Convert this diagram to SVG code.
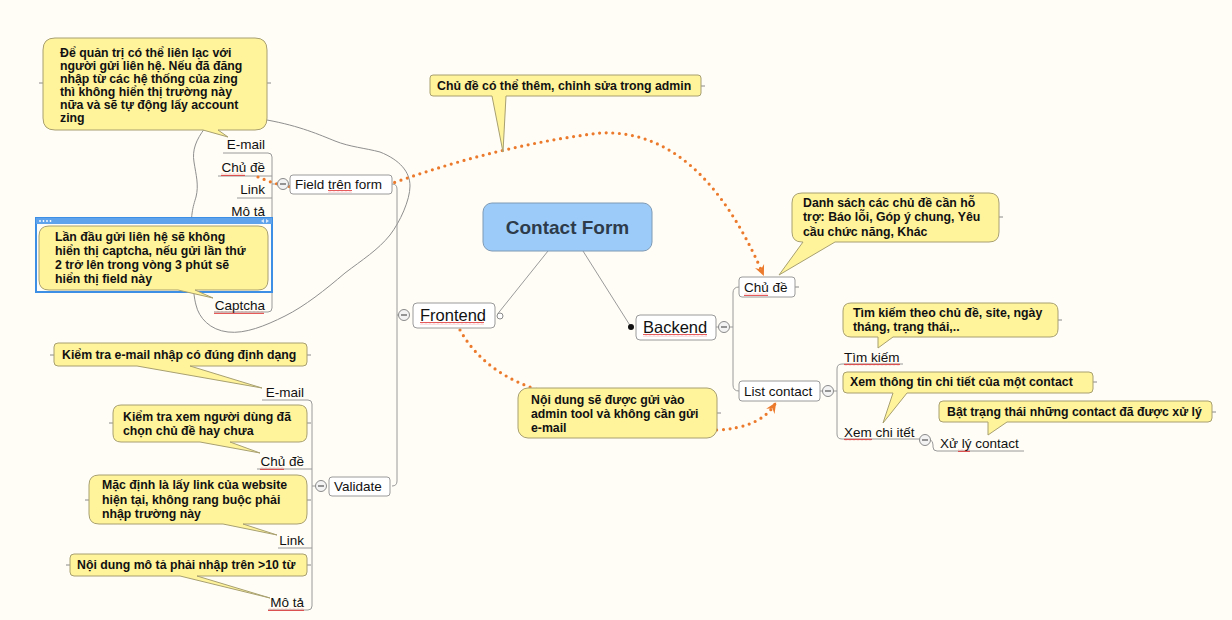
<svg xmlns="http://www.w3.org/2000/svg" width="1232" height="620" viewBox="0 0 1232 620">
<defs>
<style>
.bg{fill:#fffdf6}
.ln{fill:none;stroke:#9a9a9a;stroke-width:1}
.tick{fill:none;stroke:#8a8a8a;stroke-width:1}
.cloud{fill:none;stroke:#8f8f8f;stroke-width:1}
.rel{fill:none;stroke:#ec7a2c;stroke-width:3.2;stroke-linecap:round;stroke-dasharray:0 6.6}
.node{fill:#ffffff;stroke:#9a9a9a;stroke-width:1}
.root{fill:#9ccbfa;stroke:#7f9ab4;stroke-width:1}
.call{fill:#fff39c;stroke:#a8a070;stroke-width:1}
.minus{fill:#f3f3f3;stroke:#8a8a8a;stroke-width:1}
.t{font-family:"Liberation Sans",Arial,sans-serif;fill:#111}
.n16{font-size:16.5px}
.n13{font-size:13.5px}
.cb{font-size:12.3px;font-weight:bold}
.rt{font-family:"Liberation Sans",Arial,sans-serif;font-size:19px;font-weight:bold;fill:#2d3b4a}
.sq{fill:url(#sqp)}
</style>
<pattern id="sqp" width="4" height="3" patternUnits="userSpaceOnUse">
<path d="M0,2.2 L1,0.8 L2,2.2 L3,0.8 L4,2.2" fill="none" stroke="#e03030" stroke-width="0.8"/>
</pattern>
<marker id="arr" viewBox="0 0 10 10" refX="8" refY="5" markerWidth="11" markerHeight="11" markerUnits="userSpaceOnUse" orient="auto">
<path d="M0,0.5 L10,5 L0,9.5 L3.5,5 Z" fill="#ec7a2c"/>
</marker>
<g id="m">
<circle cx="0" cy="0" r="5.5" class="minus"/>
<path d="M-3,0 H3" stroke="#555" stroke-width="1.2"/>
</g>
</defs>
<rect class="bg" x="0" y="0" width="1232" height="620"/>

<path class="cloud" d="M205,128 C196,140 192,150 194,162 C196,175 199,185 196,197 C193,207 190,215 192,240 C193,270 192,290 196,305 C199,318 210,330 228,332 C245,334 265,326 285,316 C305,306 325,290 345,273 C362,260 378,250 390,235 C400,222 410,200 410,186 C410,172 400,160 380,152 C365,148 350,147 335,141 C320,135 300,126 267,120"/>

<g id="connectors">
<path class="ln" d="M548,251 L497.8,313.7"/>
<path class="ln" d="M583,251 L631,327"/>
<path class="ln" d="M392,184 Q397,184 397,189 V481 Q397,486 392,486 M397,315 H398.5"/>
<path class="ln" d="M223,153 H268 Q272,153 272,157 V308 Q272,312 268,312 H214 M218,176 H272 M237,198 H272 M230,220 H272 M272,184 H277.5"/>
<path class="ln" d="M262,400 H308 Q312,400 312,404 V606 Q312,610 308,610 H268 M257,469 H312 M278,548 H312 M312,486 H315.5"/>
<path class="ln" d="M716,327 H718.5 M729.5,327 H733 M739,287 Q733,287 733,293 V385 Q733,391 739,391"/>
<path class="ln" d="M820,391 H822.5 M833.5,391 H837 M903,364 H842 Q837,364 837,369 V434 Q837,439 842,439 H919.5 M930.5,440 Q933,441 933,445 V447 Q933,451 937,451 H1024"/>
<path class="rel" d="M258,177 C275,184 290,190 330,188 S380,186 393,183 Q500,145 600,133 Q700,128 763,274" marker-end="url(#arr)"/>
<path class="rel" d="M460,330 Q485,375 545,392 L717,430 Q760,428 775,404" marker-end="url(#arr)"/>
<path class="tick" d="M39,83 H43 M267,83 H271 M701,86 H705 M50,355 H54 M307,355 H311 M109,423 H113 M307,423 H311 M85,500 H89 M307,500 H311 M66,565 H70 M307,565 H311 M717,413 H721 M999,217 H1003 M1058,320 H1062 M1093,382 H1097 M1212,412 H1216 M795,287 H799"/>
</g>

<g id="root">
<rect class="root" x="483" y="203" width="169" height="48" rx="9"/>
<text class="rt" x="567.5" y="234" text-anchor="middle">Contact Form</text>
</g>

<g id="frontend">
<rect class="node" x="413" y="303" width="82" height="25" rx="4"/>
<text class="t n16" x="420" y="321">Frontend</text>
<rect class="sq" x="420" y="322" width="64" height="3"/>
<circle cx="500" cy="316" r="3" fill="#fff" stroke="#8a8a8a"/>
<use href="#m" x="404" y="315"/>
</g>

<g id="backend">
<rect class="node" x="636" y="315" width="80" height="25" rx="4"/>
<text class="t n16" x="643" y="333">Backend</text>
<rect class="sq" x="643" y="334" width="64" height="3"/>
<circle cx="631" cy="327" r="3" fill="#111"/>
<use href="#m" x="724" y="327"/>
</g>

<g id="field-tren-form">
<rect class="node" x="290" y="175" width="102" height="19" rx="3"/>
<text class="t n13" x="295" y="189">Field trên form</text>
<rect class="sq" x="328" y="190" width="24" height="3"/>
<use href="#m" x="283" y="184"/>
</g>

<g id="field-children">
<text class="t n13" x="265" y="149" text-anchor="end">E-mail</text>
<text class="t n13" x="265" y="172" text-anchor="end">Chủ đề</text>
<rect class="sq" x="221" y="173" width="24" height="3"/>
<text class="t n13" x="265" y="194" text-anchor="end">Link</text>
<text class="t n13" x="265" y="216" text-anchor="end">Mô tả</text>
<text class="t n13" x="265" y="310" text-anchor="end">Captcha</text>
<rect class="sq" x="214" y="311" width="50" height="3"/>
</g>

<g id="validate">
<rect class="node" x="329" y="477" width="61" height="19" rx="3"/>
<text class="t n13" x="334" y="491">Validate</text>
<use href="#m" x="321" y="486"/>
</g>

<g id="validate-children">
<text class="t n13" x="304" y="397" text-anchor="end">E-mail</text>
<text class="t n13" x="304" y="466" text-anchor="end">Chủ đề</text>
<rect class="sq" x="260" y="467" width="24" height="3"/>
<text class="t n13" x="304" y="545" text-anchor="end">Link</text>
<text class="t n13" x="304" y="607" text-anchor="end">Mô tả</text>
<rect class="sq" x="268" y="608" width="36" height="3"/>
</g>

<g id="chu-de-backend">
<rect class="node" x="739" y="277" width="56" height="20" rx="3"/>
<text class="t n13" x="744" y="292">Chủ đề</text>
<rect class="sq" x="744" y="293" width="24" height="3"/>
</g>

<g id="list-contact">
<rect class="node" x="739" y="381" width="81" height="20" rx="3"/>
<text class="t n13" x="744" y="396">List contact</text>
<use href="#m" x="828" y="391"/>
</g>

<g id="list-children">
<text class="t n13" x="844" y="362">Tìm kiếm</text>
<rect class="sq" x="844" y="363" width="56" height="3"/>
<text class="t n13" x="844" y="437">Xem chi itết</text>
<rect class="sq" x="844" y="438" width="28" height="3"/>
<use href="#m" x="925" y="440"/>
<text class="t n13" x="940" y="448">Xử lý contact</text>
<rect class="sq" x="958" y="449" width="12" height="3"/>
</g>

<g id="note-email-admin">
<path class="call" d="M55,38 H255 Q267,38 267,50 V118 Q267,130 255,130 H218 L228,137 L203,130 H55 Q43,130 43,118 V50 Q43,38 55,38 Z"/>
<text class="t cb" x="60" y="57">Để quản trị có thể liên lạc với</text>
<text class="t cb" x="60" y="70">người gửi liên hệ. Nếu đã đăng</text>
<text class="t cb" x="60" y="83">nhập từ các hệ thống của zing</text>
<text class="t cb" x="60" y="96">thì không hiển thị trường này</text>
<text class="t cb" x="60" y="109">nữa và sẽ tự động lấy account</text>
<text class="t cb" x="60" y="122">zing</text>
</g>

<g id="note-chu-de-admin">
<path class="call" d="M433,75 H698 Q701,75 701,78 V93 Q701,96 698,96 H506 L503,152 L492,96 H433 Q430,96 430,93 V78 Q430,75 433,75 Z"/>
<text class="t cb" x="437" y="90">Chủ đề có thể thêm, chỉnh sửa trong admin</text>
</g>

<g id="note-captcha">
<rect x="36" y="218" width="236" height="74" fill="#fffdf6" stroke="#3d8fe6" stroke-width="2"/>
<rect x="36" y="218" width="236" height="6" fill="#5ea3ec"/>
<g fill="#ffffff"><circle cx="40" cy="221" r="0.9"/><circle cx="43.5" cy="221" r="0.9"/><circle cx="47" cy="221" r="0.9"/><circle cx="50.5" cy="221" r="0.9"/></g>
<path d="M264,219 L261,221 L264,223 Z M266,219 L269,221 L266,223 Z" fill="#d8e8fa"/>
<path class="call" d="M49,226 H258 Q268,226 268,236 V280 Q268,290 258,290 H195 L213,298 L178,290 H49 Q39,290 39,280 V236 Q39,226 49,226 Z"/>
<text class="t cb" x="55" y="241">Lần đầu gửi liên hệ sẽ không</text>
<text class="t cb" x="55" y="255">hiển thị captcha, nếu gửi lần thứ</text>
<text class="t cb" x="55" y="269">2 trở lên trong vòng 3 phút sẽ</text>
<text class="t cb" x="55" y="283">hiển thị field này</text>
</g>

<g id="note-validate-email">
<path class="call" d="M58,343 H303 Q307,343 307,347 V362 Q307,366 303,366 H190 L262,388 L137,366 H58 Q54,366 54,362 V347 Q54,343 58,343 Z"/>
<text class="t cb" x="62" y="359">Kiểm tra e-mail nhập có đúng định dạng</text>
</g>

<g id="note-validate-chude">
<path class="call" d="M121,405 H299 Q307,405 307,413 V434 Q307,442 299,442 H230 L260,453 L200,442 H121 Q113,442 113,434 V413 Q113,405 121,405 Z"/>
<text class="t cb" x="123" y="421">Kiểm tra xem người dùng đã</text>
<text class="t cb" x="123" y="435">chọn chủ đề hay chưa</text>
</g>

<g id="note-validate-link">
<path class="call" d="M99,475 H297 Q307,475 307,485 V514 Q307,524 297,524 H243 L277,535 L223,524 H99 Q89,524 89,514 V485 Q89,475 99,475 Z"/>
<text class="t cb" x="102" y="489">Mặc định là lấy link của website</text>
<text class="t cb" x="102" y="504">hiện tại, không rang buộc phải</text>
<text class="t cb" x="102" y="518">nhập trường này</text>
</g>

<g id="note-validate-mota">
<path class="call" d="M74,554 H303 Q307,554 307,558 V572 Q307,576 303,576 H197 L270,598 L180,576 H74 Q70,576 70,572 V558 Q70,554 74,554 Z"/>
<text class="t cb" x="77" y="569">Nội dung mô tả phải nhập trên &gt;10 từ</text>
</g>

<g id="note-relation">
<rect class="call" x="518" y="388" width="199" height="50" rx="10"/>
<text class="t cb" x="531" y="404">Nội dung sẽ được gửi vào</text>
<text class="t cb" x="531" y="418">admin tool và không cần gửi</text>
<text class="t cb" x="531" y="432">e-mail</text>
</g>

<g id="note-danh-sach">
<path class="call" d="M802,193 H989 Q999,193 999,203 V232 Q999,242 989,242 H835 L779,275 L803,242 H802 Q792,242 792,232 V203 Q792,193 802,193 Z"/>
<text class="t cb" x="803" y="207">Danh sách các chủ đề cần hỗ</text>
<text class="t cb" x="803" y="221">trợ: Báo lỗi, Góp ý chung, Yêu</text>
<text class="t cb" x="803" y="236">cầu chức năng, Khác</text>
</g>

<g id="note-tim-kiem">
<path class="call" d="M851,303 H1050 Q1058,303 1058,311 V329 Q1058,337 1050,337 H893 L878,348 L878,337 H851 Q843,337 843,329 V311 Q843,303 851,303 Z"/>
<text class="t cb" x="853" y="317">Tìm kiếm theo chủ đề, site, ngày</text>
<text class="t cb" x="853" y="331">tháng, trạng thái,..</text>
</g>

<g id="note-xem">
<path class="call" d="M847,372 H1089 Q1093,372 1093,376 V389 Q1093,393 1089,393 H907 L883,423 L893,393 H847 Q843,393 843,389 V376 Q843,372 847,372 Z"/>
<text class="t cb" x="850" y="386">Xem thông tin chi tiết của một contact</text>
</g>

<g id="note-xu-ly">
<path class="call" d="M943,401 H1208 Q1212,401 1212,405 V418 Q1212,422 1208,422 H1007 L988,435 L988,422 H943 Q939,422 939,418 V405 Q939,401 943,401 Z"/>
<text class="t cb" x="947" y="416">Bật trạng thái những contact đã được xử lý</text>
</g>
</svg>
